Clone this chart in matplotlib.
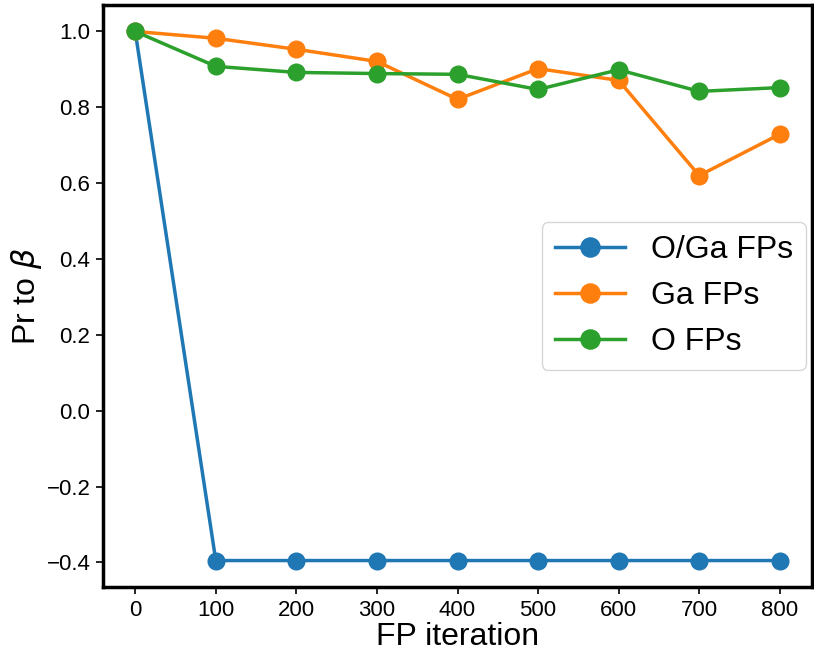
import matplotlib
matplotlib.use("Agg")
import matplotlib.pyplot as plt

iterations = [0, 100, 200, 300, 400, 500, 600, 700, 800]
oga_fps = [1.0, -0.395, -0.395, -0.395, -0.395, -0.395, -0.395, -0.395, -0.395]
ga_fps = [1.0, 0.982, 0.953, 0.921, 0.821, 0.902, 0.871, 0.620, 0.729]
o_fps = [1.0, 0.908, 0.892, 0.889, 0.887, 0.847, 0.899, 0.842, 0.852]
labels = ["O/Ga FPs", "Ga FPs", "O FPs"]

plt.rcParams['font.family'] = ['Liberation Sans', 'DejaVu Sans']
plt.rcParams['mathtext.fontset'] = 'dejavusans'

fig = plt.figure(figsize=(8.14, 6.51), dpi=100)
ax = fig.add_axes([103/814, 1 - 587/651, (812-103)/814, (587-5)/651])

for ys, c, lab in zip([oga_fps, ga_fps, o_fps], ['#1f77b4', '#ff7f0e', '#2ca02c'], labels):
    ax.plot(iterations, ys, '-o', color=c, lw=2.5, ms=12, label=lab)

ax.set_xticks(iterations)
ax.set_yticks([-0.4, -0.2, 0.0, 0.2, 0.4, 0.6, 0.8, 1.0])
ax.tick_params(labelsize=16, width=1.2, length=5, pad=4)
for s in ax.spines.values():
    s.set_linewidth(2.5)
ax.set_xlabel("FP iteration", fontsize=23, labelpad=1)
ax.set_ylabel(r"Pr to $\beta$", fontsize=23, labelpad=2)
ax.legend(fontsize=23, loc='center right', bbox_to_anchor=(1.0, 0.5),
          handlelength=2.2, markerscale=1.15, borderaxespad=0.2)

fig.savefig("out.png", dpi=100)
